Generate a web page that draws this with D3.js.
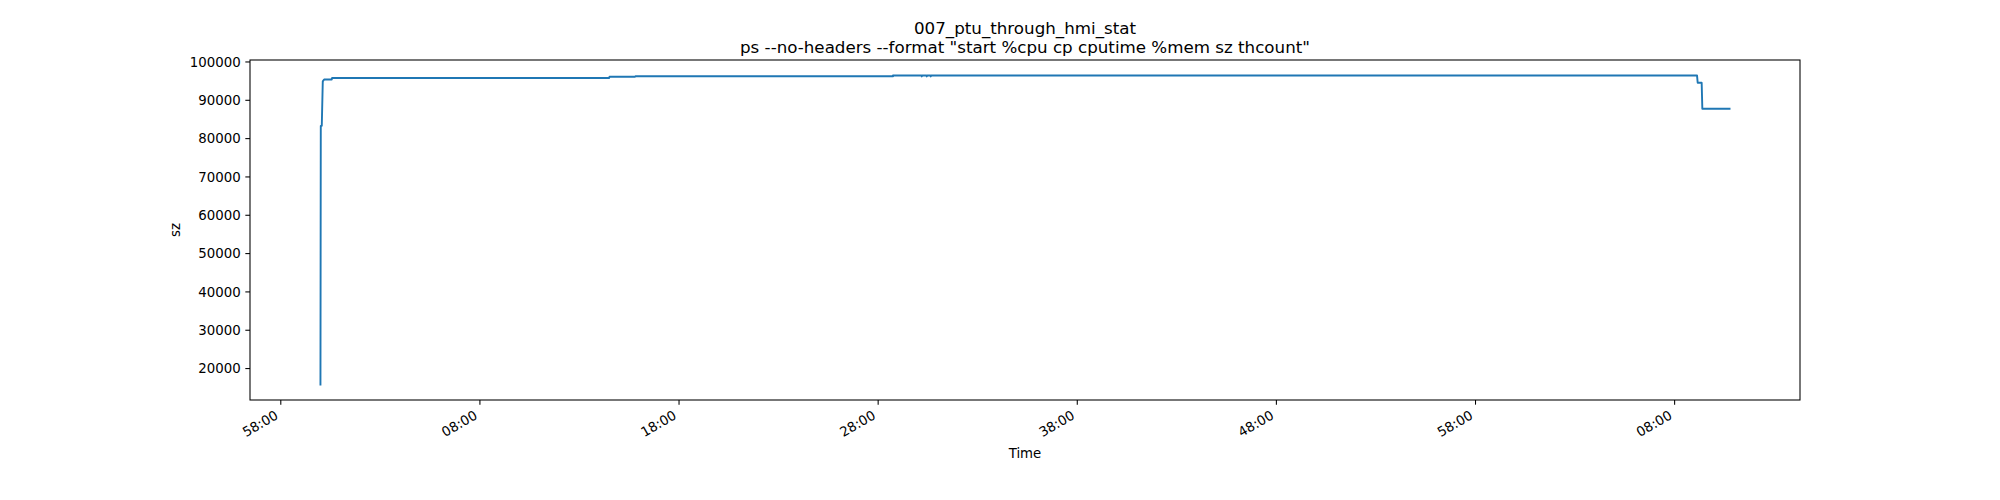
<!DOCTYPE html>
<html>
<head>
<style>
  body { margin: 0; background: #fff; }
  svg text { font-family: "DejaVu Sans", sans-serif; fill: #000; }
  .axis path, .axis line { stroke: #000; stroke-width: 1.07px; }
  .axis text { font-size: 13.33px; }
</style>
<script src="https://d3js.org/d3.v7.min.js"></script>
</head>
<body>
<svg id="szplot" width="2000" height="500"></svg>
<script>
const times = ["10:00:01", "10:00:02", "10:00:05", "10:00:08", "10:00:12", "10:00:35", "10:00:36",
               "10:14:31", "10:14:32", "10:15:49", "10:15:50",
               "10:28:45", "10:28:46", "10:28:47", "10:28:48",
               "10:30:12", "10:30:13", "10:30:14", "10:30:27", "10:30:28", "10:30:29",
               "10:30:39", "10:30:40", "10:30:41",
               "11:09:09", "11:09:11", "11:09:23", "11:09:25", "11:10:47"];
const sz = [15700, 83200, 83200, 94800, 95300, 95300, 95700,
            95700, 96000, 96000, 96150,
            96150, 96350, 96150, 96350,
            96350, 96100, 96350, 96350, 96100, 96350,
            96350, 96100, 96350,
            96350, 94450, 94450, 87650, 87650];
const xTicks = ["09:58:00", "10:08:00", "10:18:00", "10:28:00", "10:38:00", "10:48:00", "10:58:00", "11:08:00"];

const titleLines = ["007_ptu_through_hmi_stat",
                    'ps --no-headers --format "start %cpu cp cputime %mem sz thcount"'];

const parseTime = d3.timeParse("%H:%M:%S");
const data = times.map((t, i) => ({time: parseTime(t), sz: sz[i]}));

const svg = d3.select("svg#szplot");
const width = +svg.attr("width");
const height = +svg.attr("height");
const margins = {"top": 60, "right": 200, "bottom": 100, "left": 250};
const chartWidth = width - margins.left - margins.right;
const chartHeight = height - margins.top - margins.bottom;

// matplotlib style 5% margins around the data
function padded(ext) {
  const pad = (ext[1] - ext[0]) * 0.05;
  return [ext[0] - pad, ext[1] + pad];
}
const tExt = d3.extent(data, d => d.time.getTime());
const tDom = padded(tExt).map(v => new Date(v));
const yDom = padded(d3.extent(data, d => d.sz));

const xScale = d3.scaleTime().domain(tDom).range([0, chartWidth]);
const yScale = d3.scaleLinear().domain(yDom).range([chartHeight, 0]);

let annotations = svg.append("g").attr("id", "annotations");

let chart = svg.append("g")
  .attr("transform", "translate(" + margins.left + "," + margins.top + ")");

// the line
const line = d3.line()
  .x(d => xScale(d.time))
  .y(d => yScale(d.sz));

chart.append("path")
  .datum(data)
  .attr("fill", "none")
  .attr("stroke", "#1f77b4")
  .attr("stroke-width", 1.9)
  .attr("stroke-linejoin", "round")
  .attr("stroke-linecap", "square")
  .attr("d", line);

// frame
chart.append("rect")
  .attr("x", 0).attr("y", 0)
  .attr("width", chartWidth).attr("height", chartHeight)
  .attr("fill", "none")
  .attr("stroke", "#000")
  .attr("stroke-width", 1.07);

// y axis
let leftAxis = d3.axisLeft(yScale)
  .ticks(10)
  .tickSize(4.67)
  .tickPadding(4.67)
  .tickFormat(d3.format("d"));

let yAxisG = annotations.append("g")
  .attr("class", "y axis")
  .attr("transform", "translate(" + margins.left + "," + margins.top + ")")
  .call(leftAxis);
yAxisG.select(".domain").remove();
yAxisG.selectAll("text").attr("dy", "0.36em");

// x axis, labels rotated 30 degrees like autofmt_xdate
let bottomAxis = d3.axisBottom(xScale)
  .tickValues(xTicks.map(parseTime))
  .tickSize(4.67)
  .tickPadding(4.67)
  .tickFormat(d3.timeFormat("%M:%S"));

let xAxisG = annotations.append("g")
  .attr("class", "x axis")
  .attr("transform", "translate(" + margins.left + "," + (margins.top + chartHeight) + ")")
  .call(bottomAxis);
xAxisG.select(".domain").remove();
xAxisG.selectAll("text")
  .attr("text-anchor", "end")
  .attr("dy", null)
  .attr("y", null)
  .attr("transform", "translate(-1.6," + (9.34 + 8.6) + ") rotate(-30)");

// axis labels
annotations.append("text")
  .attr("x", margins.left + chartWidth / 2)
  .attr("y", 458)
  .attr("text-anchor", "middle")
  .style("font-size", "13.33px")
  .text("Time");

annotations.append("text")
  .attr("transform", "translate(180," + (margins.top + chartHeight / 2) + ") rotate(-90)")
  .attr("text-anchor", "middle")
  .style("font-size", "13.33px")
  .text("sz");

// title
annotations.append("text")
  .attr("x", margins.left + chartWidth / 2)
  .attr("y", 34)
  .attr("text-anchor", "middle")
  .style("font-size", "16.7px")
  .selectAll("tspan")
  .data(titleLines)
  .join("tspan")
  .attr("x", margins.left + chartWidth / 2)
  .attr("dy", (d, i) => i === 0 ? 0 : 19.2)
  .text(d => d);
</script>
</body>
</html>
